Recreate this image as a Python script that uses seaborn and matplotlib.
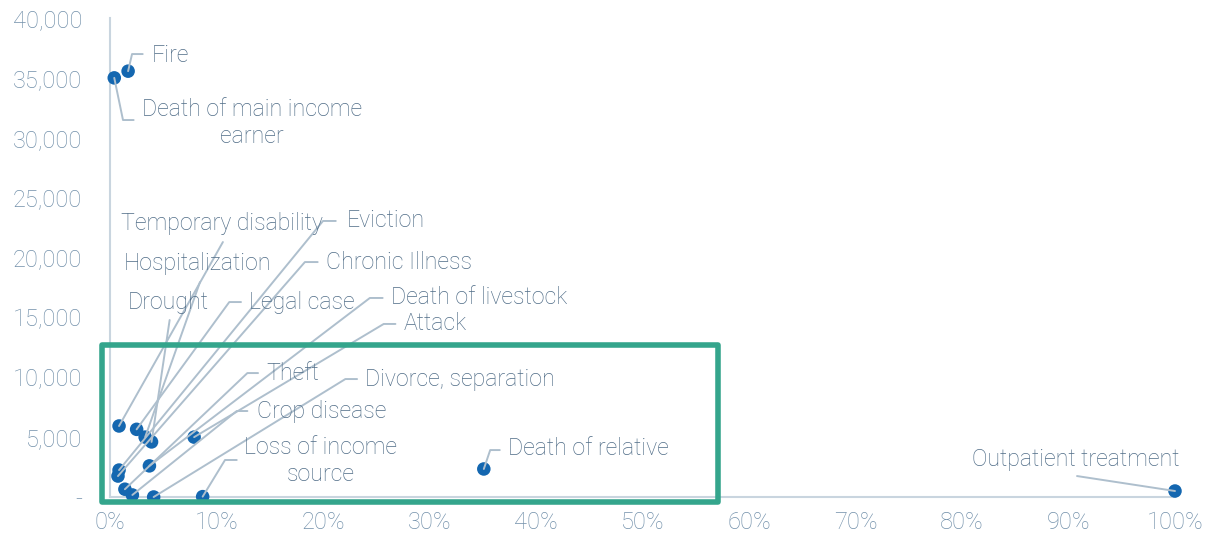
import pandas as pd
import matplotlib
matplotlib.use('Agg')
import matplotlib.pyplot as plt
import matplotlib.patches as patches
import seaborn as sns
from matplotlib.ticker import FuncFormatter, MultipleLocator

# shock types, share of households (%) and average cost
shocks = ['Fire', 'Death of main income\nearner', 'Temporary disability', 'Hospitalization',
          'Drought', 'Eviction', 'Chronic Illness', 'Legal case', 'Death of livestock',
          'Attack', 'Theft', 'Divorce, separation', 'Crop disease', 'Loss of income\nsource',
          'Death of relative', 'Outpatient treatment']
share = [1.7, 0.4, 0.85, 3.3, 3.9, 0.85, 0.75, 2.5, 3.7, 7.9, 1.4, 4.1, 2.1, 8.7, 35.1, 100.0]
cost = [35560, 35000, 5930, 5000, 4600, 2250, 1750, 5650, 2600, 5000, 650, 0, 170, 30, 2340, 500]

# label placement (text anchor and leader elbow, data units)
text_x = [3.9, 3.0, 1.0, 1.3, 1.7, 22.2, 20.3, 13.05, 26.4, 27.6, 14.7, 23.9, 13.8, 12.6, 37.4, 90.7]
text_y = [36900, 31250, 22800, 19540, 16280, 23050, 19620, 16280, 16620, 14450, 10350, 9850, 7180, 3000, 4010, 3090]
elbow_x = [2.07, 1.22, 10.6, 8.45, 5.6, 20.0, 18.3, 11.2, 24.4, 25.7, 12.9, 22.1, 11.9, 10.8, 35.7, 90.8]
elbow_y = [36990, 31480, 21290, 17950, 14780, 23050, 19620, 16280, 16620, 14450, 10350, 9850, 7180, 3090, 3920, 1750]
stub = [1.0, 1.0, 0, 0, 0, 1.2, 1.2, 1.1, 1.2, 1.1, 1.0, 1.1, 1.0, 1.1, 0.9, 0]

df = pd.DataFrame({'shock': shocks, 'share': share, 'cost': cost})

sns.set_style('white')
plt.rcParams['font.family'] = ['Roboto', 'DejaVu Sans']

fig = plt.figure(figsize=(12.15, 5.42), dpi=100)
ax = fig.add_axes([110 / 1215, 45 / 542, 1065 / 1215, 479 / 542])

sns.scatterplot(data=df, x='share', y='cost', ax=ax, color='#1467b0', s=95,
                edgecolor='none', zorder=3, clip_on=False)

line_col = '#aebfcd'
text_col = '#4f6c87'
for i, lab in enumerate(shocks):
    xs = [share[i], elbow_x[i]]
    ys = [cost[i], elbow_y[i]]
    if stub[i] > 0:
        xs.append(elbow_x[i] + stub[i])
        ys.append(elbow_y[i])
    ax.plot(xs, ys, color=line_col, lw=1.4, zorder=4, clip_on=False)
    if lab == 'Outpatient treatment':
        ha = 'center'
    else:
        ha = 'left'
    ax.text(text_x[i], text_y[i], lab, ha=ha, va='center', multialignment='center',
            fontsize=16.7, color=text_col, fontweight='light', zorder=5, linespacing=1.25)

# highlight box
rect = patches.Rectangle((-0.75, -420), 57.85, 13110, fill=False, edgecolor='#34a58c',
                         lw=4, clip_on=False, zorder=6, joinstyle='round')
ax.add_patch(rect)

ax.set_xlim(0, 100)
ax.set_ylim(0, 40000)
ax.xaxis.set_major_locator(MultipleLocator(10))
ax.yaxis.set_major_locator(MultipleLocator(5000))
ax.xaxis.set_major_formatter(FuncFormatter(lambda v, p: f'{v:.0f}%'))
ax.yaxis.set_major_formatter(FuncFormatter(lambda v, p: '-' if v == 0 else f'{v:,.0f}'))
ax.tick_params(axis='both', length=0, labelsize=17, labelcolor='#7290aa')
for lbl in ax.get_xticklabels() + ax.get_yticklabels():
    lbl.set_fontweight('light')
ax.tick_params(axis='x', pad=10)
ax.tick_params(axis='y', pad=20)
ax.set_xlabel('')
ax.set_ylabel('')

sns.despine(ax=ax)
for side in ['left', 'bottom']:
    ax.spines[side].set_color('#c9d5df')
    ax.spines[side].set_linewidth(1.5)

fig.savefig('out.png', dpi=100)
